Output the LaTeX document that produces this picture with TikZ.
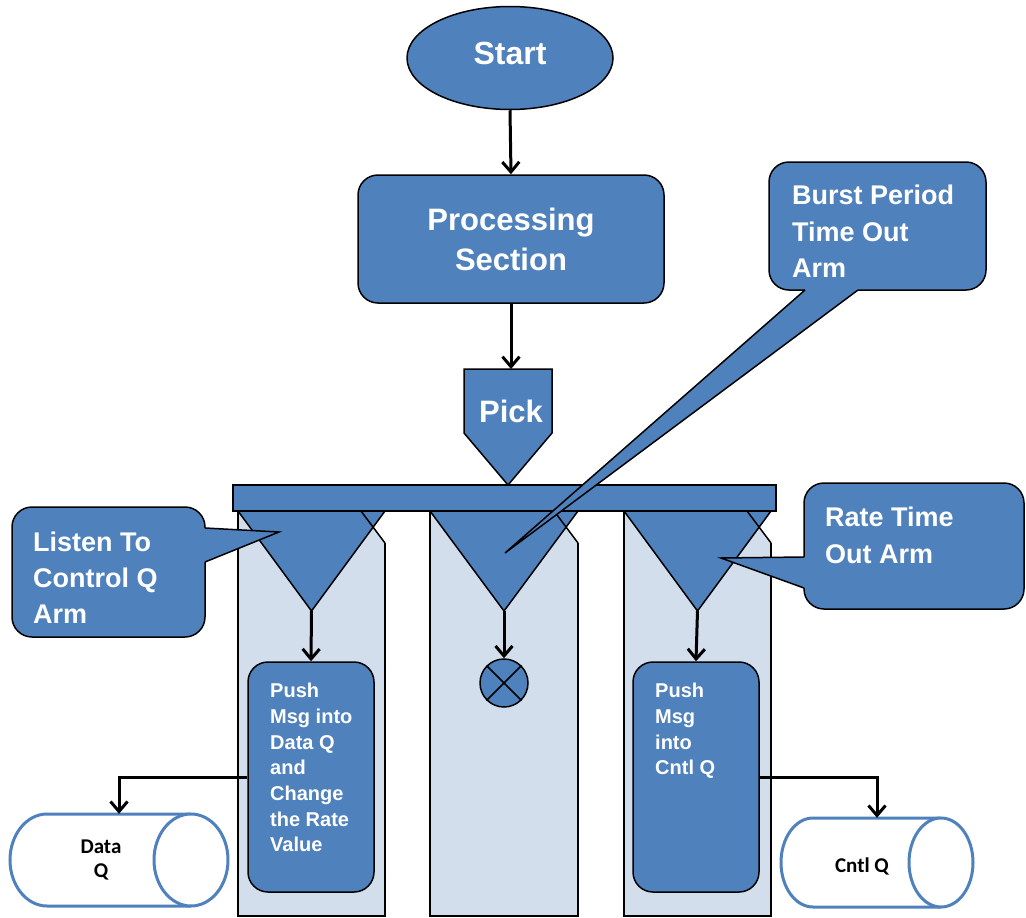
\documentclass[tikz,border=0pt]{standalone}
\usepackage{fontspec}
\setmainfont{Liberation Sans}
\newfontfamily\carlito{Carlito}
\usetikzlibrary{arrows.meta,shapes.geometric}
\definecolor{myblue}{HTML}{4F81BD}
\definecolor{lanefill}{HTML}{D3DEED}
\tikzset{
  blk/.style={fill=myblue, draw=black, line width=1.5pt},
  ol/.style={draw=black, line width=1.5pt},
  arr/.style={-{Straight Barb[length=10pt,width=17pt]}, line width=3pt},
  wt/.style={text=white, inner sep=0pt},
  cyl/.style={fill=white, draw=myblue, line width=3pt},
  ghost/.style={draw=none, inner sep=0pt}
}
\begin{document}
\begin{tikzpicture}[x=1pt,y=-1pt]
\useasboundingbox (0,0) rectangle (1026,918);

% ---- lanes ----
\foreach \L/\R in {238/385,430/578,624/771}{
  \fill[lanefill] (\L,511) -- (\L,916) -- (\R,916) -- (\R,543) -- (\R-24,511) -- cycle;
  \draw[ol] (\L,511) -- (\L,916) -- (\R,916) -- (\R,543);
}
% triangles
\foreach \L/\R/\n in {238/385/1,430/578/2,624/771/3}{
  \draw[blk, line join=miter] (\L,511) -- (\R,511) -- ({(\L+\R)/2},611) -- cycle;
  \draw[ol] (\R-24,511) -- (\R,543);
  \coordinate (apex\n) at ({(\L+\R)/2},611);
}

% ---- bar ----
\draw[blk] (233,485) rectangle (776,511);

% ---- start / processing / pick ----
\node[blk, ellipse, minimum width=206pt, minimum height=103pt, inner sep=0pt] (start) at (510,58) {};
\node[wt, font=\bfseries\fontsize{32}{38}\selectfont] at (510,53) {Start};

\node[blk, rectangle, rounded corners=20pt, minimum width=306pt, minimum height=128pt,
      text=white, align=center, font=\bfseries\fontsize{31}{40}\selectfont] (proc) at (511,239)
      {Processing\\Section};

\draw[blk, line join=miter] (464,369) -- (552,369) -- (552,433) -- (508,485) -- (464,433) -- cycle;
\coordinate (picktop) at (511,369);
\node[wt, font=\bfseries\fontsize{31}{38}\selectfont] at (511,411) {Pick};

\draw[arr] (start.south) -- (proc.north);
\draw[arr] (proc.south) -- (picktop);

% ---- lane contents ----
\node[blk, rectangle, rounded corners=20pt, minimum width=126pt, minimum height=230pt] (p1) at (311,777) {};
\node[wt, anchor=north west, align=left, font=\bfseries\fontsize{20}{25.7}\selectfont] at (270,683)
  {Push\\Msg into\\Data Q\\and\\Change\\the Rate\\Value};

\node[blk, rectangle, rounded corners=20pt, minimum width=126pt, minimum height=230pt] (p3) at (696,777) {};
\node[wt, anchor=north west, align=left, font=\bfseries\fontsize{20}{25.7}\selectfont] at (655,683)
  {Push\\Msg\\into\\Cntl Q};

\node[blk, circle, minimum size=48pt, inner sep=0pt] (term) at (504,683) {};
\draw[ol] (term.north west) -- (term.south east) (term.north east) -- (term.south west);

\draw[arr] (apex1) -- (p1.north);
\draw[arr] (apex2) -- (term.north);
\draw[arr] (apex3) -- (p3.north);

% ---- cylinders ----
\draw[cyl] (191,814) -- (47,814) arc[start angle=270, end angle=90, x radius=37, y radius=46] -- (191,906);
\draw[cyl] (191,860) ellipse[x radius=37, y radius=46];
\node[ghost, minimum width=218pt, minimum height=92pt] (dq) at (119,860) {};
\node[inner sep=0pt, align=center, font=\carlito\bfseries\fontsize{21}{24}\selectfont] at (101,860) {Data\\Q};

\draw[cyl] (941,818) -- (813,818) arc[start angle=270, end angle=90, x radius=32, y radius=44.5] -- (941,907);
\draw[cyl] (941,862.5) ellipse[x radius=32, y radius=44.5];
\node[ghost, minimum width=192pt, minimum height=89pt] (cq) at (877,862.5) {};
\node[inner sep=0pt, font=\carlito\bfseries\fontsize{21}{24}\selectfont] at (862,866) {Cntl Q};

\draw[arr] (p1.west) -| (dq.north);
\draw[arr] (p3.east) -| (cq.north);

% ---- callouts ----
% Burst period
\draw[blk] [rounded corners=20pt] (769,162) rectangle (986,290);
\fill[myblue] (805,290) -- (505,553) -- (858,290) -- (858,284) -- (805,284) -- cycle;
\draw[ol, line join=miter] (805,290) -- (505,553) -- (858,290);
\node[wt, anchor=north west, align=left, font=\bfseries\fontsize{27}{36.5}\selectfont] at (792,185)
  {Burst Period\\Time Out\\Arm};

% Listen
\draw[blk] [rounded corners=20pt] (12,507) rectangle (205,637);
\fill[myblue] (205,528) -- (279,532) -- (205,562) -- (199,562) -- (199,528) -- cycle;
\draw[ol, line join=miter] (205,528) -- (279,532) -- (205,562);
\node[wt, anchor=north west, align=left, font=\bfseries\fontsize{27}{36}\selectfont] at (33,532)
  {Listen To\\Control Q\\Arm};

% Rate
\draw[blk] [rounded corners=20pt] (804,483) rectangle (1024,609);
\fill[myblue] (804,557) -- (721,558) -- (804,588) -- (810,588) -- (810,557) -- cycle;
\draw[ol, line join=miter] (804,557) -- (721,558) -- (804,588);
\node[wt, anchor=north west, align=left, font=\bfseries\fontsize{27}{36.5}\selectfont] at (825,507)
  {Rate Time\\Out Arm};
\end{tikzpicture}
\end{document}
